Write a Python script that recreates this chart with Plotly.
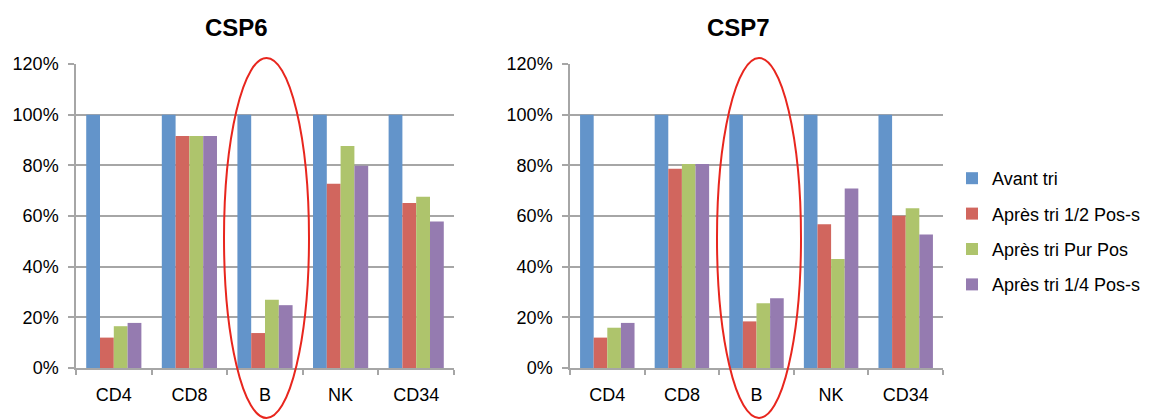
import plotly.graph_objects as go

categories = ["CD4", "CD8", "B", "NK", "CD34"]
series_names = ["Avant tri", "Après tri 1/2 Pos-s", "Après tri Pur Pos", "Après tri 1/4 Pos-s"]
colors = ["#6394CA", "#D1665E", "#AEC46C", "#957BB0"]

# Fractions per series, one list per cell population (CD4, CD8, B, NK, CD34)
csp6 = {
    "Avant tri": [1.00, 1.00, 1.00, 1.00, 1.00],
    "Après tri 1/2 Pos-s": [0.12, 0.916, 0.138, 0.727, 0.651],
    "Après tri Pur Pos": [0.165, 0.916, 0.269, 0.876, 0.676],
    "Après tri 1/4 Pos-s": [0.178, 0.916, 0.248, 0.798, 0.578],
}
csp7 = {
    "Avant tri": [1.00, 1.00, 1.00, 1.00, 1.00],
    "Après tri 1/2 Pos-s": [0.12, 0.787, 0.184, 0.567, 0.601],
    "Après tri Pur Pos": [0.159, 0.805, 0.256, 0.430, 0.631],
    "Après tri 1/4 Pos-s": [0.178, 0.805, 0.275, 0.709, 0.527],
}
titles = ["CSP6", "CSP7"]

W, H = 1158, 419
FONT = "Liberation Sans, Arial, sans-serif"


def px_x(v):
    return v / W


def px_y(v):
    return 1 - v / H


fig = go.Figure()

for panel, (data, xa, ya) in enumerate([(csp6, "x", "y"), (csp7, "x2", "y2")]):
    for name, color in zip(series_names, colors):
        fig.add_trace(go.Bar(
            x=categories, y=data[name], name=name,
            marker=dict(color=color, line=dict(width=0)),
            xaxis=xa, yaxis=ya,
            legendgroup=name, showlegend=(panel == 0),
        ))

grid = "#A6A6A6"
axis_common = dict(
    showline=True, linecolor=grid, linewidth=1.5,
    ticks="outside", tickcolor=grid, tickwidth=1.5,
    tickfont=dict(family=FONT, size=18, color="black"),
)
yaxis_common = dict(
    range=[0, 1.2], dtick=0.2, tickformat=".0%",
    showgrid=True, gridcolor=grid, gridwidth=1.5,
    ticklen=6, zeroline=False, ticklabelstandoff=6, **axis_common,
)
xaxis_common = dict(
    type="category", tickson="boundaries", ticklen=5,
    ticklabelstandoff=10, showgrid=False, **axis_common,
)

y_dom = [px_y(368), px_y(64)]
fig.update_layout(
    width=W, height=H,
    margin=dict(l=0, r=0, t=0, b=0, autoexpand=False),
    paper_bgcolor="white", plot_bgcolor="white",
    barmode="group", bargap=0.27, bargroupgap=0,
    font=dict(family=FONT, size=18, color="black"),
    xaxis=dict(domain=[px_x(76), px_x(454)], anchor="y", **xaxis_common),
    yaxis=dict(domain=y_dom, anchor="x", **yaxis_common),
    xaxis2=dict(domain=[px_x(570), px_x(943)], anchor="y2", **xaxis_common),
    yaxis2=dict(domain=y_dom, anchor="x2", **yaxis_common),
    legend=dict(
        x=px_x(952), y=px_y(160), xanchor="left", yanchor="top",
        font=dict(family=FONT, size=18, color="black"),
        tracegroupgap=9, bgcolor="rgba(0,0,0,0)",
    ),
)

# Panel titles
for text, cx in zip(titles, [236, 738]):
    fig.add_annotation(
        text="<b>%s</b>" % text, x=px_x(cx), y=px_y(27),
        xref="paper", yref="paper", showarrow=False,
        font=dict(family=FONT, size=24, color="black"),
        xanchor="center", yanchor="middle",
    )

# Red ellipses highlighting the B population
for x0, x1 in [(224, 309), (717, 801)]:
    fig.add_shape(
        type="circle", xref="paper", yref="paper",
        x0=px_x(x0), x1=px_x(x1), y0=px_y(418), y1=px_y(58),
        line=dict(color="#E8261E", width=2), fillcolor="rgba(0,0,0,0)",
        layer="above",
    )

fig.write_html("out.html")
